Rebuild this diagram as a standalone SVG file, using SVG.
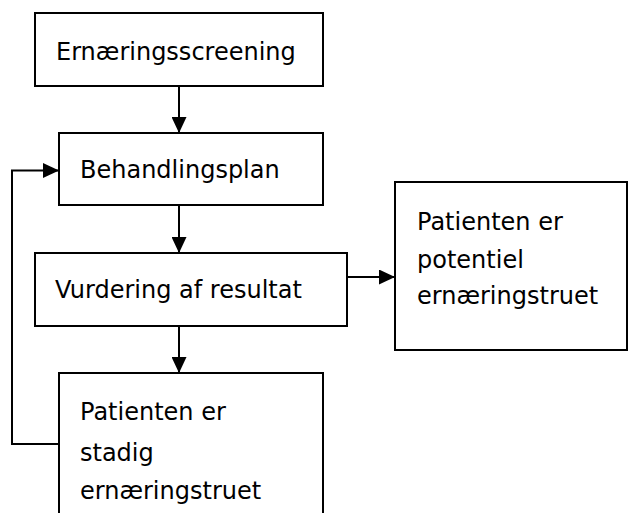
<svg xmlns="http://www.w3.org/2000/svg" width="628" height="513" viewBox="0 0 628 513">
  <defs>
    <marker id="arrow" markerUnits="userSpaceOnUse" markerWidth="16" markerHeight="15" refX="16" refY="7.5" orient="auto">
      <path d="M0,0 L16,7.5 L0,15 Z" fill="#000"/>
    </marker>
    <style>
      .box { fill: #fff; stroke: #000; stroke-width: 2; }
      .lbl { font-family: "DejaVu Sans", Verdana, sans-serif; font-size: 24px; fill: #000; }
      .conn { fill: none; stroke: #000; stroke-width: 2; }
    </style>
  </defs>
  <rect width="628" height="513" fill="#fff"/>

  <g id="connectors">
    <line class="conn" x1="179" y1="86" x2="179" y2="133" marker-end="url(#arrow)"/>
    <line class="conn" x1="179" y1="205" x2="179" y2="253" marker-end="url(#arrow)"/>
    <line class="conn" x1="179" y1="326" x2="179" y2="373" marker-end="url(#arrow)"/>
    <line class="conn" x1="347" y1="277" x2="395" y2="277" marker-end="url(#arrow)"/>
    <polyline class="conn" points="59,444 12,444 12,170.5 59,170.5" marker-end="url(#arrow)"/>
  </g>

  <g id="screening">
    <rect class="box" x="35" y="13" width="288" height="73"/>
    <text class="lbl" x="56" y="60">Ernæringsscreening</text>
  </g>

  <g id="behandlingsplan">
    <rect class="box" x="59" y="133" width="264" height="72"/>
    <text class="lbl" x="80" y="178">Behandlingsplan</text>
  </g>

  <g id="vurdering">
    <rect class="box" x="35" y="253" width="312" height="73"/>
    <text class="lbl" x="55" y="298">Vurdering af resultat</text>
  </g>

  <g id="potentiel">
    <rect class="box" x="395" y="182" width="232" height="168"/>
    <text class="lbl" x="417" y="230">Patienten er</text>
    <text class="lbl" x="417" y="268">potentiel</text>
    <text class="lbl" x="417" y="304">ernæringstruet</text>
  </g>

  <g id="stadig">
    <rect class="box" x="59" y="373" width="264" height="150"/>
    <text class="lbl" x="80" y="420">Patienten er</text>
    <text class="lbl" x="80" y="461">stadig</text>
    <text class="lbl" x="80" y="499">ernæringstruet</text>
  </g>
</svg>
